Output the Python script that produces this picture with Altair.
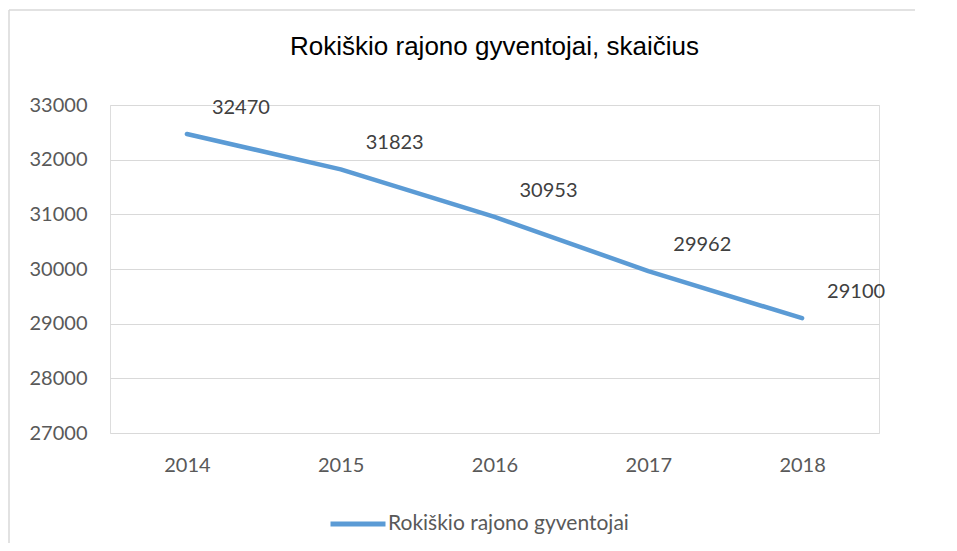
import altair as alt
import pandas as pd

years = ["2014", "2015", "2016", "2017", "2018"]
values = [32470, 31823, 30953, 29962, 29100]
series_name = "Rokiškio rajono gyventojai"
title_text = "Rokiškio rajono gyventojai, skaičius"
y_ticks = [27000, 28000, 29000, 30000, 31000, 32000, 33000]

df = pd.DataFrame({"year": years, "value": values, "series": [series_name] * len(years)})

LINE_COLOR = "#5B9BD5"
AX_FONT = "Lato"
FRAME_COLOR = "#D9D9D9"

base = alt.Chart(df)

x_enc = alt.X(
    "year:N",
    title=None,
    axis=alt.Axis(
        labelAngle=0, domain=False, ticks=False, grid=False,
        labelColor="#595959", labelFont=AX_FONT, labelFontSize=20,
        labelPadding=22,
    ),
)
y_enc = alt.Y(
    "value:Q",
    title=None,
    scale=alt.Scale(domain=[27000, 33000], nice=False, zero=False),
    axis=alt.Axis(
        values=y_ticks, format="d", domain=False, ticks=False,
        gridColor="#D9D9D9", gridWidth=1,
        labelColor="#595959", labelFont=AX_FONT, labelFontSize=20,
        labelPadding=23,
    ),
)

line = base.mark_line(strokeWidth=4.5, strokeCap="round", strokeJoin="round").encode(
    x=x_enc,
    y=y_enc,
    color=alt.Color(
        "series:N",
        scale=alt.Scale(range=[LINE_COLOR]),
        legend=alt.Legend(
            title=None, orient="none", legendX=218, legendY=389,
            direction="horizontal",
            symbolType="stroke", symbolSize=3025, symbolStrokeWidth=5,
            symbolStrokeColor=LINE_COLOR,
            labelFont=AX_FONT, labelFontSize=21, labelColor="#595959",
            labelOffset=0, labelLimit=500,
        ),
    ),
)

labels = base.mark_text(
    dx=54, dy=-26, align="center", baseline="middle",
    font=AX_FONT, fontSize=20, color="#404040",
).encode(
    x=alt.X("year:N"),
    y=alt.Y("value:Q"),
    text=alt.Text("value:Q", format="d"),
)

frame_data = alt.Data(values=[{}])
frame_left = alt.Chart(frame_data).mark_rule(stroke=FRAME_COLOR, strokeWidth=1.5).encode(
    x=alt.value(-101), y=alt.value(-95), y2=alt.value(440),
)
frame_top = alt.Chart(frame_data).mark_rule(stroke=FRAME_COLOR, strokeWidth=1.5).encode(
    x=alt.value(-101), x2=alt.value(805), y=alt.value(-95),
)

chart = alt.layer(frame_left, frame_top, line, labels).properties(
    width=769,
    height=328,
    title=alt.Title(
        title_text, font="Liberation Sans", fontSize=26, fontWeight="normal",
        color="#000000", anchor="middle", offset=-51,
    ),
    autosize=alt.AutoSizeParams(type="none"),
    padding={"left": 102, "top": 97, "right": 60, "bottom": 110},
).configure_view(stroke=None).configure(background="white")

chart.save("out.html", embed_options={"renderer": "svg", "actions": False})
